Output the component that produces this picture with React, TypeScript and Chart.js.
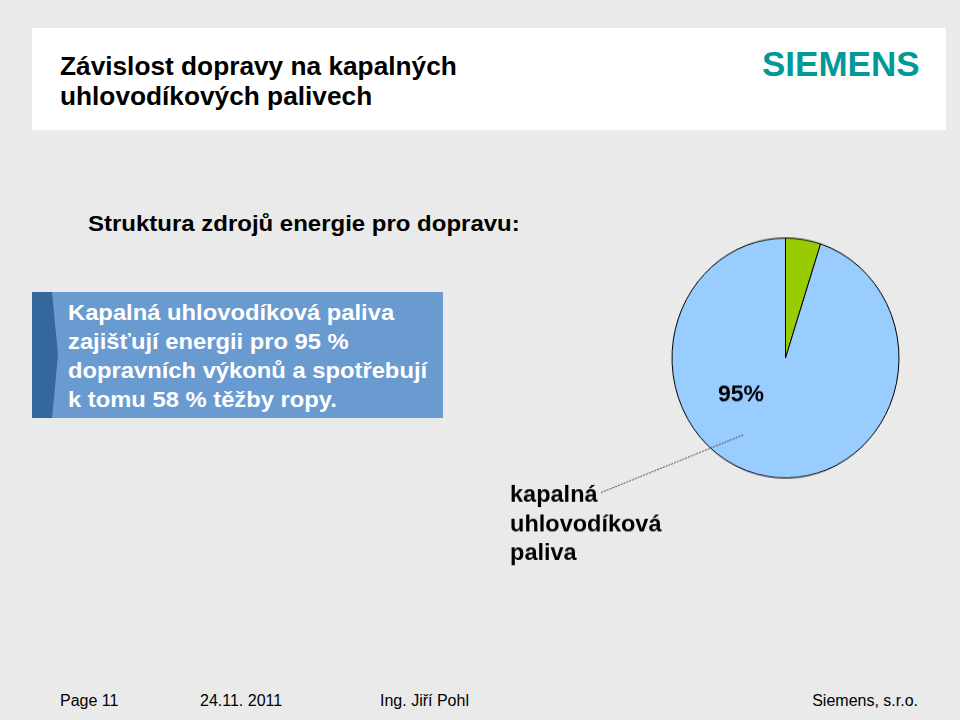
import React, { useEffect, useRef } from "react";
import { Chart, registerables } from "chart.js";

Chart.register(...registerables);

// ---- data ----
const categories = ["ostatní", "kapalná uhlovodíková paliva"];
const shares = [5, 95];
const sliceColors = ["#99cc00", "#99ccff"];
const calloutLines = ["kapalná", "uhlovodíková", "paliva"];
const titleLines = ["Závislost dopravy na kapalných", "uhlovodíkových palivech"];
const subtitle = "Struktura zdrojů energie pro dopravu:";
const boxLines = [
  "Kapalná uhlovodíková paliva",
  "zajišťují energii pro 95 %",
  "dopravních výkonů a spotřebují",
  "k tomu 58 % těžby ropy.",
];
const footerLeft = ["Page 11", "24.11. 2011", "Ing. Jiří Pohl"];
const footerRight = "Siemens, s.r.o.";

const FONT = "'Liberation Sans', Arial, Helvetica, sans-serif";
const S = 120 / 113.5; // vertical stretch of the pie in the slide

type TProps = {
  x?: number;
  right?: number;
  base: number;
  size: number;
  bold?: boolean;
  color?: string;
  sx?: number;
  text: string;
};

function T({ x, right, base, size, bold, color = "#000", sx = 1, text }: TProps) {
  const style: React.CSSProperties = {
    position: "absolute",
    top: base - 0.83 * size,
    fontSize: size,
    lineHeight: `${size}px`,
    fontFamily: FONT,
    fontWeight: bold ? 700 : 400,
    color,
    whiteSpace: "nowrap",
    transform: `scaleX(${sx})`,
    transformOrigin: right !== undefined ? "right center" : "left center",
  };
  if (right !== undefined) style.right = right;
  else style.left = x;
  return <div style={style}>{text}</div>;
}

const calloutPlugin = {
  id: "callout",
  afterDatasetsDraw(chart: any) {
    const arc = chart.getDatasetMeta(0).data[1];
    if (!arc) return;
    const { x, y, outerRadius: r } = arc.getProps(["x", "y", "outerRadius"], true);
    const ctx = chart.ctx as CanvasRenderingContext2D;
    const cy = (d: number) => y + d / S;
    const text = (t: string, px: number, py: number) => {
      ctx.save();
      ctx.translate(px, py);
      ctx.scale(1, 1 / S);
      ctx.fillText(t, 0, 0);
      ctx.restore();
    };
    ctx.save();
    // leader line
    ctx.strokeStyle = "#505050";
    ctx.lineWidth = 1;
    ctx.setLineDash([2, 1]);
    ctx.beginPath();
    ctx.moveTo(x - 0.374 * r, cy(0.678 * r));
    ctx.lineTo(x - 1.634 * r, cy(1.189 * r));
    ctx.stroke();
    ctx.setLineDash([]);
    // value label
    ctx.fillStyle = "#000";
    ctx.font = `bold 23px ${FONT}`;
    ctx.textAlign = "center";
    ctx.textBaseline = "middle";
    text(`${shares[1]}%`, x - 0.392 * r, cy(0.326 * r));
    // category label
    ctx.font = `bold 23.5px ${FONT}`;
    ctx.textAlign = "left";
    ctx.textBaseline = "alphabetic";
    calloutLines.forEach((ln, i) => {
      text(ln, x - 2.427 * r, cy(1.269 * r + i * 0.2555 * r));
    });
    ctx.restore();
  },
};

export default function App() {
  const ref = useRef<HTMLCanvasElement>(null);

  useEffect(() => {
    if (!ref.current) return;
    const chart = new Chart(ref.current, {
      type: "pie",
      data: {
        labels: categories,
        datasets: [
          {
            data: shares,
            backgroundColor: sliceColors,
            borderColor: "#000",
            borderWidth: 1,
          },
        ],
      },
      options: {
        animation: false,
        responsive: false,
        maintainAspectRatio: false,
        devicePixelRatio: 1,
        layout: { padding: { left: 671, right: 60, top: 244, bottom: 248 } },
        plugins: {
          legend: { display: false },
          tooltip: { enabled: false },
        },
      },
      plugins: [calloutPlugin],
    });
    return () => chart.destroy();
  }, []);

  return (
    <div
      style={{
        position: "fixed",
        left: 0,
        top: 0,
        width: 960,
        height: 720,
        background: "#eaeaea",
        overflow: "hidden",
      }}
    >
      {/* header band */}
      <div
        style={{
          position: "absolute",
          left: 32,
          top: 28,
          width: 914,
          height: 102,
          background: "#ffffff",
        }}
      />
      <T x={60} base={75} size={25} bold sx={1.05} text={titleLines[0]} />
      <T x={60} base={105} size={25} bold sx={1.05} text={titleLines[1]} />
      <T x={762} base={75} size={35} bold color="#009999" text="SIEMENS" />

      <T x={88} base={231} size={22} bold sx={1.09} text={subtitle} />

      {/* blue box */}
      <div
        style={{
          position: "absolute",
          left: 32,
          top: 292,
          width: 411,
          height: 126,
          background: "#6a9bd0",
        }}
      />
      <div
        style={{
          position: "absolute",
          left: 32,
          top: 292,
          width: 30,
          height: 126,
          background: "#34679c",
          clipPath: "polygon(0 0, 20px 0, 26px 50%, 20px 100%, 0 100%)",
        }}
      />
      {boxLines.map((ln, i) => (
        <T key={i} x={68} base={320 + i * 29} size={22} bold color="#ffffff" sx={1.08} text={ln} />
      ))}

      {/* footer */}
      <T x={60} base={706} size={16} text={footerLeft[0]} />
      <T x={200} base={706} size={16} text={footerLeft[1]} />
      <T x={380} base={706} size={16} text={footerLeft[2]} />
      <T right={42} base={706} size={16} text={footerRight} />

      <canvas
        ref={ref}
        width={960}
        height={720}
        style={{
          position: "absolute",
          left: 0,
          top: 0,
          width: 960,
          height: 720,
          transform: `scaleY(${S})`,
          transformOrigin: "0 358px",
        }}
      />
    </div>
  );
}
